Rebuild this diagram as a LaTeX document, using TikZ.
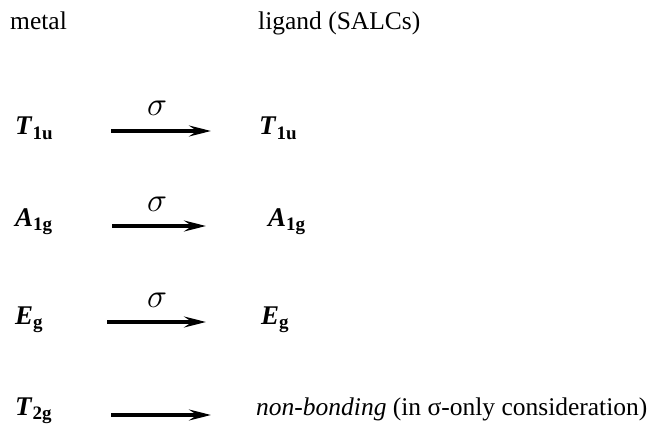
\documentclass[tikz,border=0pt]{standalone}
\usepackage{fontspec}
\usepackage{graphicx}
\setmainfont{Liberation Serif}
\usetikzlibrary{arrows.meta}
\newcommand{\irrep}[2]{{\fontsize{27}{30}\selectfont\textbf{\textit{#1}}}\raisebox{-4.5pt}{\fontsize{19}{19}\selectfont\bfseries #2}}
\newcommand{\sigmark}{\scalebox{1.35}{$\sigma$}}
\begin{document}
\begin{tikzpicture}[x=1pt,y=-1pt,
  lbl/.style={inner sep=0pt, anchor=base west, font=\fontsize{25.5}{30}\selectfont},
  sig/.style={inner sep=0pt, anchor=base, font=\fontsize{24}{28}\selectfont},
  conn/.style={line width=3.3pt, -{Stealth[length=22pt,width=11pt,inset=8pt]}}]
\useasboundingbox (0,0) rectangle (654,428);
\node[lbl] (metal) at (10,30) {metal};
\node[lbl] (lig) at (258,30) {ligand (SALCs)};
% row 1
\node[lbl] (m1) at (15,135) {\irrep{T}{1u}};
\node[lbl] (l1) at (259,135) {\irrep{T}{1u}};
\coordinate (a1s) at (111,131); \coordinate (a1e) at (211,131);
\draw[conn] (a1s) -- (a1e);
\node[sig] (s1) at (157,115) {\sigmark};
% row 2
\node[lbl] (m2) at (15,226) {\irrep{A}{1g}};
\node[lbl] (l2) at (268,226) {\irrep{A}{1g}};
\coordinate (a2s) at (112,226); \coordinate (a2e) at (206,226);
\draw[conn] (a2s) -- (a2e);
\node[sig] (s2) at (157,211) {\sigmark};
% row 3
\node[lbl] (m3) at (15,324) {\irrep{E}{g}};
\node[lbl] (l3) at (261,324) {\irrep{E}{g}};
\coordinate (a3s) at (107,322); \coordinate (a3e) at (206,322);
\draw[conn] (a3s) -- (a3e);
\node[sig] (s3) at (157,307) {\sigmark};
% row 4
\node[lbl] (m4) at (15,415) {\irrep{T}{2g}};
\node[lbl] (l4) at (256,415) {\textit{non-bonding} (in σ-only consideration)};
\coordinate (a4s) at (111,415); \coordinate (a4e) at (211,415);
\draw[conn] (a4s) -- (a4e);
\end{tikzpicture}
\end{document}
